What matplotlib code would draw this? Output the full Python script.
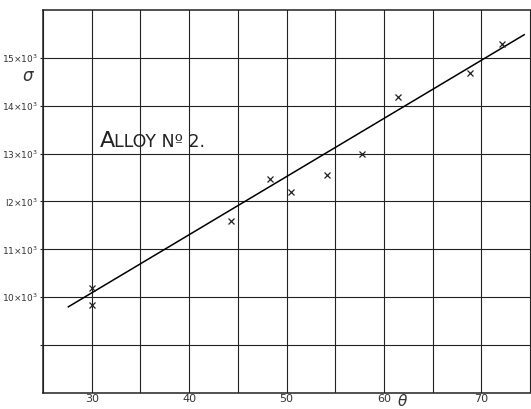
import matplotlib
matplotlib.use("Agg")
import matplotlib.pyplot as plt

# observed points (theta, sigma)
theta = [30.0, 30.0, 44.3, 48.3, 50.5, 54.2, 57.7, 61.4, 68.8, 72.1]
sigma = [10190, 9830, 11600, 12460, 12190, 12560, 13000, 14170, 14690, 15290]

# fitted straight line, drawn by hand on the original
line_theta = [27.6, 74.4]
line_sigma = [9800, 15480]

x_ticks = [25, 30, 35, 40, 45, 50, 55, 60, 65, 70, 75]
x_labels = ["", "30", "", "40", "", "50", "", "60", "", "70", ""]
y_ticks = [9000, 10000, 11000, 12000, 13000, 14000, 15000]
y_labels = ["", r"10$\times$10$^3$", r"11$\times$10$^3$", r"I2$\times$10$^3$",
            r"13$\times$10$^3$", r"14$\times$10$^3$", r"15$\times$10$^3$"]

fig = plt.figure(figsize=(5.31, 4.09), dpi=100)
ax = fig.add_axes([0.081, 0.039, 0.919, 0.937])

ax.plot(line_theta, line_sigma, color="black", lw=1.1)
ax.plot(theta, sigma, "x", color="#222222", ms=4.5, mew=0.9)

ax.set_xlim(25, 75.1)
ax.set_ylim(8000, 16000)
ax.set_xticks(x_ticks)
ax.set_xticklabels(x_labels, fontsize=8, color="#333333")
ax.set_yticks(y_ticks)
ax.set_yticklabels(y_labels, fontsize=6.5, color="#333333")
ax.tick_params(axis="x", length=0, pad=1)
ax.tick_params(axis="y", length=2, width=0.8, pad=1.5, color="#222222")
ax.grid(True, color="#222222", lw=0.8)
ax.set_axisbelow(True)
for s in ["left", "bottom", "top"]:
    ax.spines[s].set_linewidth(1.1)
    ax.spines[s].set_color("#222222")
ax.spines["right"].set_visible(False)

# title written on the chart, small caps style
fig.text(100 / 531, 1 - 147 / 409, "A", fontsize=16, va="baseline", ha="left", color="#222222")
fig.text(114 / 531, 1 - 147 / 409, "LLOY N\u00ba 2.", fontsize=12.5, va="baseline", ha="left", color="#222222")

fig.text(28 / 531, 1 - 76 / 409, r"$\sigma$", fontsize=12, ha="center", va="center", color="#333333")
fig.text(403 / 531, 1 - 401 / 409, r"$\theta$", fontsize=11, ha="center", va="center", color="#333333")

fig.savefig("out.png", dpi=100)
